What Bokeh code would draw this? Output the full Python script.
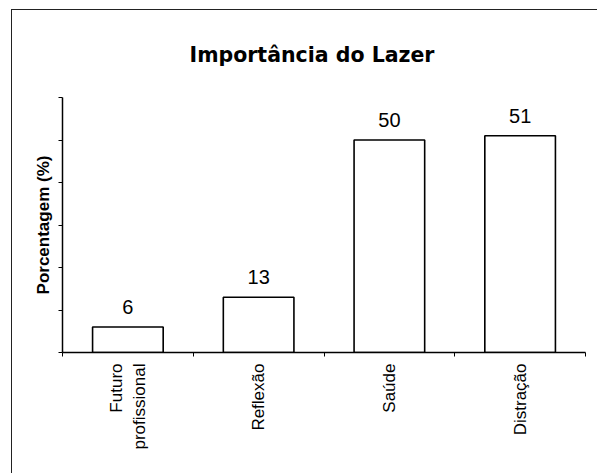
import math
from bokeh.plotting import figure
from bokeh.models import Range1d, FixedTicker, ColumnDataSource
from bokeh.embed import file_html
from bokeh.resources import INLINE
from bokeh.core.properties import value

title_text = "Importância do Lazer"
y_label = "Porcentagem (%)"
categories = ["Futuro\nprofissional", "Reflexão", "Saúde", "Distração"]
percentages = [6, 13, 50, 51]
value_labels = ["6", "13", "50", "51"]
y_ticks = [0, 10, 20, 30, 40, 50, 60]

n = len(categories)
positions = [i + 0.5 for i in range(n)]
boundaries = list(range(n + 1))

src = ColumnDataSource(dict(x=positions, top=percentages, lab=value_labels))

p = figure(width=586, height=464, output_backend="svg", toolbar_location=None,
           x_range=Range1d(0, n), y_range=Range1d(y_ticks[0], y_ticks[-1]),
           min_border_left=50, min_border_right=13, min_border_top=87,
           min_border_bottom=122, title=title_text)
p.margin = (9, 0, 0, 11)
p.styles = {"border-left": "1px solid #222", "border-top": "1px solid #222"}

p.title.align = "left"
p.title.offset = 127
p.title.text_font = "DejaVu Sans"
p.title.text_font_style = "bold"
p.title.text_font_size = "20.5px"
p.title.text_color = "black"
p.title.standoff = 61

p.outline_line_color = None
p.xgrid.visible = False
p.ygrid.visible = False

p.vbar(x="x", top="top", width=0.54, source=src, fill_color="white",
       line_color="black", line_width=1.6)
p.text(x="x", y="top", text="lab", source=src, text_align="center",
       text_baseline="alphabetic", y_offset=-20, text_font=value("Liberation Sans"),
       text_font_size="20px", text_color="black")

xa = p.xaxis[0]
xa.ticker = FixedTicker(ticks=positions, minor_ticks=boundaries)
xa.major_label_overrides = {pos: c for pos, c in zip(positions, categories)}
xa.major_tick_line_color = None
xa.major_tick_out = 0
xa.major_tick_in = 0
xa.minor_tick_out = 4
xa.minor_tick_in = 0
xa.minor_tick_line_color = "black"
xa.axis_line_color = "black"
xa.axis_line_width = 1.5
xa.major_label_orientation = math.pi / 2
xa.major_label_standoff = 7
xa.major_label_text_font = "Liberation Sans"
xa.major_label_text_font_size = "17px"
xa.major_label_text_color = "black"

ya = p.yaxis[0]
ya.ticker = FixedTicker(ticks=y_ticks, minor_ticks=[])
ya.major_label_overrides = {t: "" for t in y_ticks}
ya.major_tick_out = 4
ya.major_tick_in = 0
ya.major_tick_line_color = "black"
ya.minor_tick_line_color = None
ya.axis_line_color = "black"
ya.axis_line_width = 1.5
ya.axis_label = y_label
ya.axis_label_text_font = "Liberation Sans"
ya.axis_label_text_font_style = "bold"
ya.axis_label_text_font_size = "17px"
ya.axis_label_text_color = "black"
ya.axis_label_standoff = 6

open("out.html", "w").write(file_html(p, INLINE))
